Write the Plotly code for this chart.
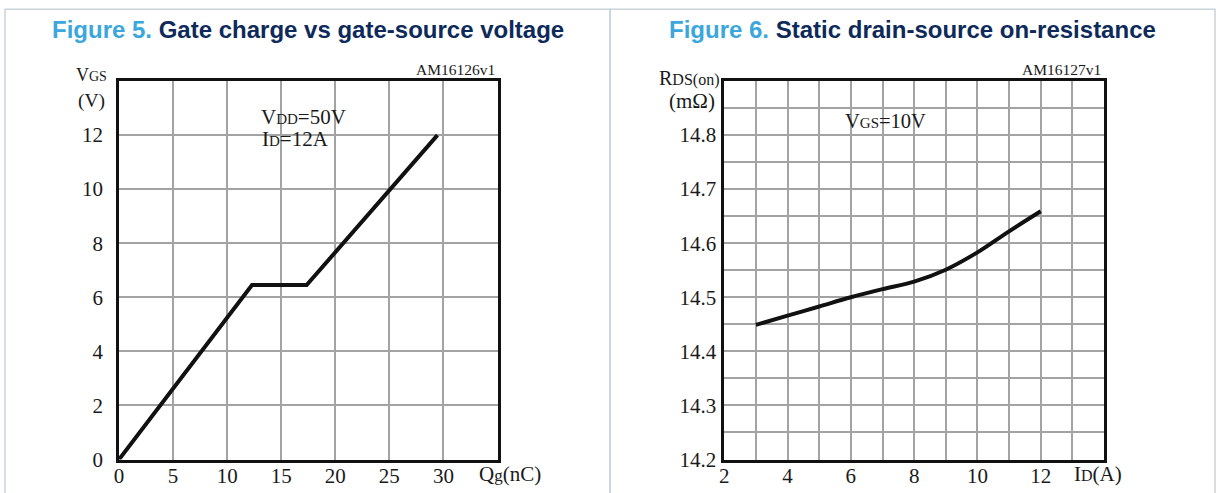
import plotly.graph_objects as go

# ---------------- data ----------------
# Figure 5: gate charge vs gate-source voltage
qg_nc = [0, 12.3, 17.35, 29.45]
vgs_v = [0, 6.45, 6.45, 12.0]
fig5_xticks = [0, 5, 10, 15, 20, 25, 30]
fig5_yticks = [0, 2, 4, 6, 8, 10, 12]

# Figure 6: static drain-source on-resistance
id_a = [3, 4, 5, 6, 7, 8, 9, 10, 11, 12]
rds_mohm = [14.449, 14.466, 14.483, 14.500, 14.515, 14.529, 14.551, 14.583, 14.622, 14.659]
fig6_xticks = [2, 4, 6, 8, 10, 12]
fig6_yticks = [14.2, 14.3, 14.4, 14.5, 14.6, 14.7, 14.8]
fig6_ytick_text = ["14.2", "14.3", "14.4", "14.5", "14.6", "14.7", "14.8"]

# ---------------- layout helpers ----------------
W, H = 1221, 493


def px(x):
    return x / W


def py(y):
    return 1 - y / H


SERIF = "Liberation Serif, Times New Roman, serif"
SANS = "Liberation Sans, Arial, sans-serif"
GRID = "#a3a3a3"
TXT = "#1a1a1a"

fig = go.Figure()
fig.add_trace(go.Scatter(x=qg_nc, y=vgs_v, mode="lines",
                         line=dict(color="#111111", width=4),
                         xaxis="x", yaxis="y", showlegend=False, hoverinfo="skip"))
fig.add_trace(go.Scatter(x=id_a, y=rds_mohm, mode="lines",
                         line=dict(color="#111111", width=4, shape="spline", smoothing=1.0),
                         xaxis="x2", yaxis="y2", showlegend=False, hoverinfo="skip"))

ydom = [py(459.5), py(81)]
axis_common = dict(showline=True, mirror=True, linecolor="#111111", linewidth=2.6,
                   showgrid=True, gridcolor=GRID, gridwidth=1.5, zeroline=False, automargin=False,
                   ticks="", tickfont=dict(family=SERIF, size=21, color=TXT), fixedrange=True)

fig.update_layout(
    template="none",
    width=W, height=H,
    margin=dict(l=0, r=0, t=0, b=0, pad=0),
    paper_bgcolor="white", plot_bgcolor="white",
    xaxis=dict(domain=[px(119), px(497.5)], range=[0, 35], tickvals=fig5_xticks,
               anchor="y", ticklabelstandoff=-5, **axis_common),
    yaxis=dict(domain=ydom, range=[0, 14], tickvals=fig5_yticks,
               anchor="x", ticklabelstandoff=9, **axis_common),
    xaxis2=dict(domain=[px(724.3), px(1104)], range=[2, 14], tickvals=fig6_xticks,
                anchor="y2", ticklabelstandoff=-5,
                minor=dict(dtick=1, tick0=2, showgrid=True, gridcolor=GRID, gridwidth=1.5, ticks=""),
                **axis_common),
    yaxis2=dict(domain=ydom, range=[14.2, 14.9], tickvals=fig6_yticks, ticktext=fig6_ytick_text,
                anchor="x2", ticklabelstandoff=1,
                minor=dict(dtick=0.05, tick0=14.2, showgrid=True, gridcolor=GRID, gridwidth=1.5, ticks=""),
                **axis_common),
)

shapes = []
# panel borders
BORDER = "#c9d3da"
shapes.append(dict(type="rect", xref="paper", yref="paper", x0=px(5), x1=px(610), y0=-0.1, y1=py(9.3),
                   line=dict(color=BORDER, width=1.5), layer="below"))
shapes.append(dict(type="rect", xref="paper", yref="paper", x0=px(610), x1=px(1215), y0=-0.1, y1=py(9.3),
                   line=dict(color=BORDER, width=1.5), layer="below"))
# white legend boxes covering grid
shapes.append(dict(type="rect", xref="paper", yref="paper", x0=px(247), x1=px(365), y0=py(153), y1=py(100),
                   fillcolor="white", line=dict(width=0), layer="between"))
shapes.append(dict(type="rect", xref="paper", yref="paper", x0=px(831), x1=px(939), y0=py(142), y1=py(94),
                   fillcolor="white", line=dict(width=0), layer="between"))
fig.update_layout(shapes=shapes)

ann = []


def note(x, y, text, size=19, xanchor="center", family=SERIF, color=TXT):
    ann.append(dict(xref="paper", yref="paper", x=px(x), y=py(y), text=text, showarrow=False,
                    xanchor=xanchor, yanchor="middle", font=dict(family=family, size=size, color=color)))


# titles
note(308, 30, "<b><span style='color:#3ba7dd'>Figure 5.</span> Gate charge vs gate-source voltage</b>",
     size=24, family=SANS, color="#0d2a5a")
note(912.5, 30, "<b><span style='color:#3ba7dd'>Figure 6.</span> Static drain-source on-resistance</b>",
     size=24, family=SANS, color="#0d2a5a")

# figure 5 texts
note(91, 75, "V<span style='font-size:14px'>GS</span>", size=18)
note(91, 101, "(V)", size=19.5)
note(497, 70, "AM16126v1", size=15.5, xanchor="right")
note(259, 117, "V<span style='font-size:15px'>DD</span>=50V", size=21, xanchor="left")
note(260, 139, "I<span style='font-size:15px'>D</span>=12A", size=21, xanchor="left")
note(510, 474, "Q<span style='font-size:17px'>g</span>(nC)", size=21)

# figure 6 texts
note(721, 78, "R<span style='font-size:16px'>DS(on)</span>", size=20, xanchor="right")
note(717, 101, "(mΩ)", size=21, xanchor="right")
note(1103, 70, "AM16127v1", size=15.5, xanchor="right")
note(885, 121, "V<span style='font-size:15px'>GS</span>=10V", size=20.5)
note(1098, 474, "I<span style='font-size:16px'>D</span>(A)", size=21)

fig.update_layout(annotations=ann)

fig.write_html("out.html", config={"displayModeBar": False},
               post_script="document.body.style.margin='0';document.body.style.overflow='hidden';")
